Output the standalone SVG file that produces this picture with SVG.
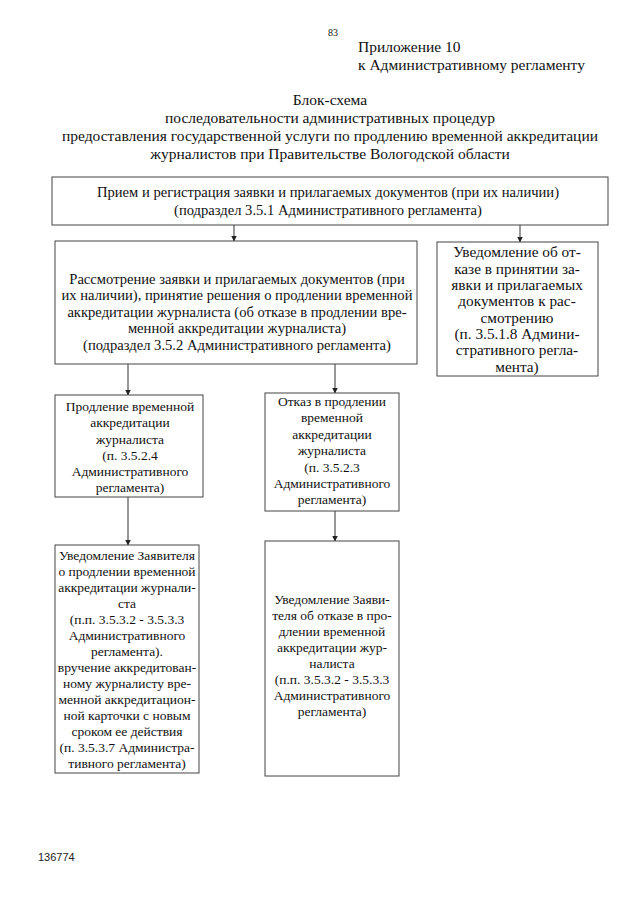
<svg xmlns="http://www.w3.org/2000/svg" width="640" height="905" viewBox="0 0 640 905">
<defs>
<marker id="ah" markerWidth="6" markerHeight="7" refX="5.5" refY="3" orient="auto" markerUnits="userSpaceOnUse">
<path d="M0,0 L6,3 L0,6 Z" fill="#222"/>
</marker>
<style>
.box{fill:#fff;stroke:#444;stroke-width:1}
.t{font-family:"Liberation Serif","Times New Roman",serif;font-size:13.5px;fill:#111;text-anchor:middle}
.w{font-size:14.6px}
.m{font-size:15.3px}
.h{font-family:"Liberation Serif","Times New Roman",serif;font-size:15.5px;fill:#111}
.c{stroke:#333;stroke-width:1;fill:none;marker-end:url(#ah)}
</style>
</defs>
<rect width="640" height="905" fill="#fff"/>
<g id="header">
<text class="h" x="333" y="36" style="font-size:10px;text-anchor:middle">83</text>
<text class="h" x="358" y="52">Приложение 10</text>
<text class="h" x="358" y="70">к Административному регламенту</text>
<text class="h" x="330" y="105" style="text-anchor:middle">Блок-схема</text>
<text class="h" x="330" y="123" style="text-anchor:middle">последовательности административных процедур</text>
<text class="h" x="330" y="141" style="text-anchor:middle">предоставления государственной услуги по продлению временной аккредитации</text>
<text class="h" x="330" y="159" style="text-anchor:middle">журналистов при Правительстве Вологодской области</text>
</g>
<g id="connectors">
<line class="c" x1="234" y1="225" x2="234" y2="241"/>
<line class="c" x1="520" y1="225" x2="520" y2="242"/>
<line class="c" x1="128" y1="364" x2="128" y2="395"/>
<line class="c" x1="335" y1="364" x2="335" y2="393"/>
<line class="c" x1="128" y1="497" x2="128" y2="545"/>
<line class="c" x1="335" y1="511" x2="335" y2="541"/>
</g>
<g id="n1">
<rect class="box" x="52" y="177" width="556" height="48"/>
<text class="t w" x="328" y="197">Прием и регистрация заявки и прилагаемых документов (при их наличии)</text>
<text class="t w" x="328" y="215">(подраздел 3.5.1 Административного регламента)</text>
</g>
<g id="n2">
<rect class="box" x="55" y="241" width="362" height="123"/>
<text class="t w" x="237" y="284">Рассмотрение заявки и прилагаемых документов (при</text>
<text class="t w" x="237" y="300">их наличии), принятие решения о продлении временной</text>
<text class="t w" x="237" y="317">аккредитации журналиста (об отказе в продлении вре-</text>
<text class="t w" x="237" y="333">менной аккредитации журналиста)</text>
<text class="t w" x="237" y="350">(подраздел 3.5.2 Административного регламента)</text>
</g>
<g id="n3">
<rect class="box" x="437" y="242" width="161" height="134"/>
<text class="t m" x="517" y="257">Уведомление об от-</text>
<text class="t m" x="517" y="274">казе в принятии за-</text>
<text class="t m" x="517" y="290">явки и прилагаемых</text>
<text class="t m" x="517" y="306">документов к рас-</text>
<text class="t m" x="517" y="323">смотрению</text>
<text class="t m" x="517" y="339">(п. 3.5.1.8 Админи-</text>
<text class="t m" x="517" y="355">стративного регла-</text>
<text class="t m" x="517" y="372">мента)</text>
</g>
<g id="n4">
<rect class="box" x="55" y="395" width="148" height="102"/>
<text class="t" x="130" y="411">Продление временной</text>
<text class="t" x="130" y="427">аккредитации</text>
<text class="t" x="130" y="444">журналиста</text>
<text class="t" x="130" y="460">(п. 3.5.2.4</text>
<text class="t" x="130" y="476">Административного</text>
<text class="t" x="130" y="492">регламента)</text>
</g>
<g id="n5">
<rect class="box" x="265" y="393" width="134" height="118"/>
<text class="t" x="332" y="406">Отказ в продлении</text>
<text class="t" x="332" y="422">временной</text>
<text class="t" x="332" y="439">аккредитации</text>
<text class="t" x="332" y="455">журналиста</text>
<text class="t" x="332" y="472">(п. 3.5.2.3</text>
<text class="t" x="332" y="488">Административного</text>
<text class="t" x="332" y="504">регламента)</text>
</g>
<g id="n6">
<rect class="box" x="55" y="545" width="144" height="228"/>
<text class="t" x="127" y="560">Уведомление Заявителя</text>
<text class="t" x="127" y="576">о продлении временной</text>
<text class="t" x="127" y="592">аккредитации журнали-</text>
<text class="t" x="127" y="608">ста</text>
<text class="t" x="127" y="624">(п.п. 3.5.3.2 - 3.5.3.3</text>
<text class="t" x="127" y="640">Административного</text>
<text class="t" x="127" y="656">регламента).</text>
<text class="t" x="127" y="672">вручение аккредитован-</text>
<text class="t" x="127" y="688">ному журналисту вре-</text>
<text class="t" x="127" y="704">менной аккредитацион-</text>
<text class="t" x="127" y="720">ной карточки с новым</text>
<text class="t" x="127" y="736">сроком ее действия</text>
<text class="t" x="127" y="752">(п. 3.5.3.7 Администра-</text>
<text class="t" x="127" y="768">тивного регламента)</text>
</g>
<g id="n7">
<rect class="box" x="265" y="541" width="134" height="235"/>
<text class="t" x="332" y="604">Уведомление Заяви-</text>
<text class="t" x="332" y="620">теля об отказе в про-</text>
<text class="t" x="332" y="636">длении временной</text>
<text class="t" x="332" y="652">аккредитации  жур-</text>
<text class="t" x="332" y="668">налиста</text>
<text class="t" x="332" y="684">(п.п. 3.5.3.2 - 3.5.3.3</text>
<text class="t" x="332" y="700">Административного</text>
<text class="t" x="332" y="716">регламента)</text>
</g>
<g id="footer">
<text x="38" y="861" style="font-family:'Liberation Sans',sans-serif;font-size:11px;fill:#222">136774</text>
</g>
</svg>
